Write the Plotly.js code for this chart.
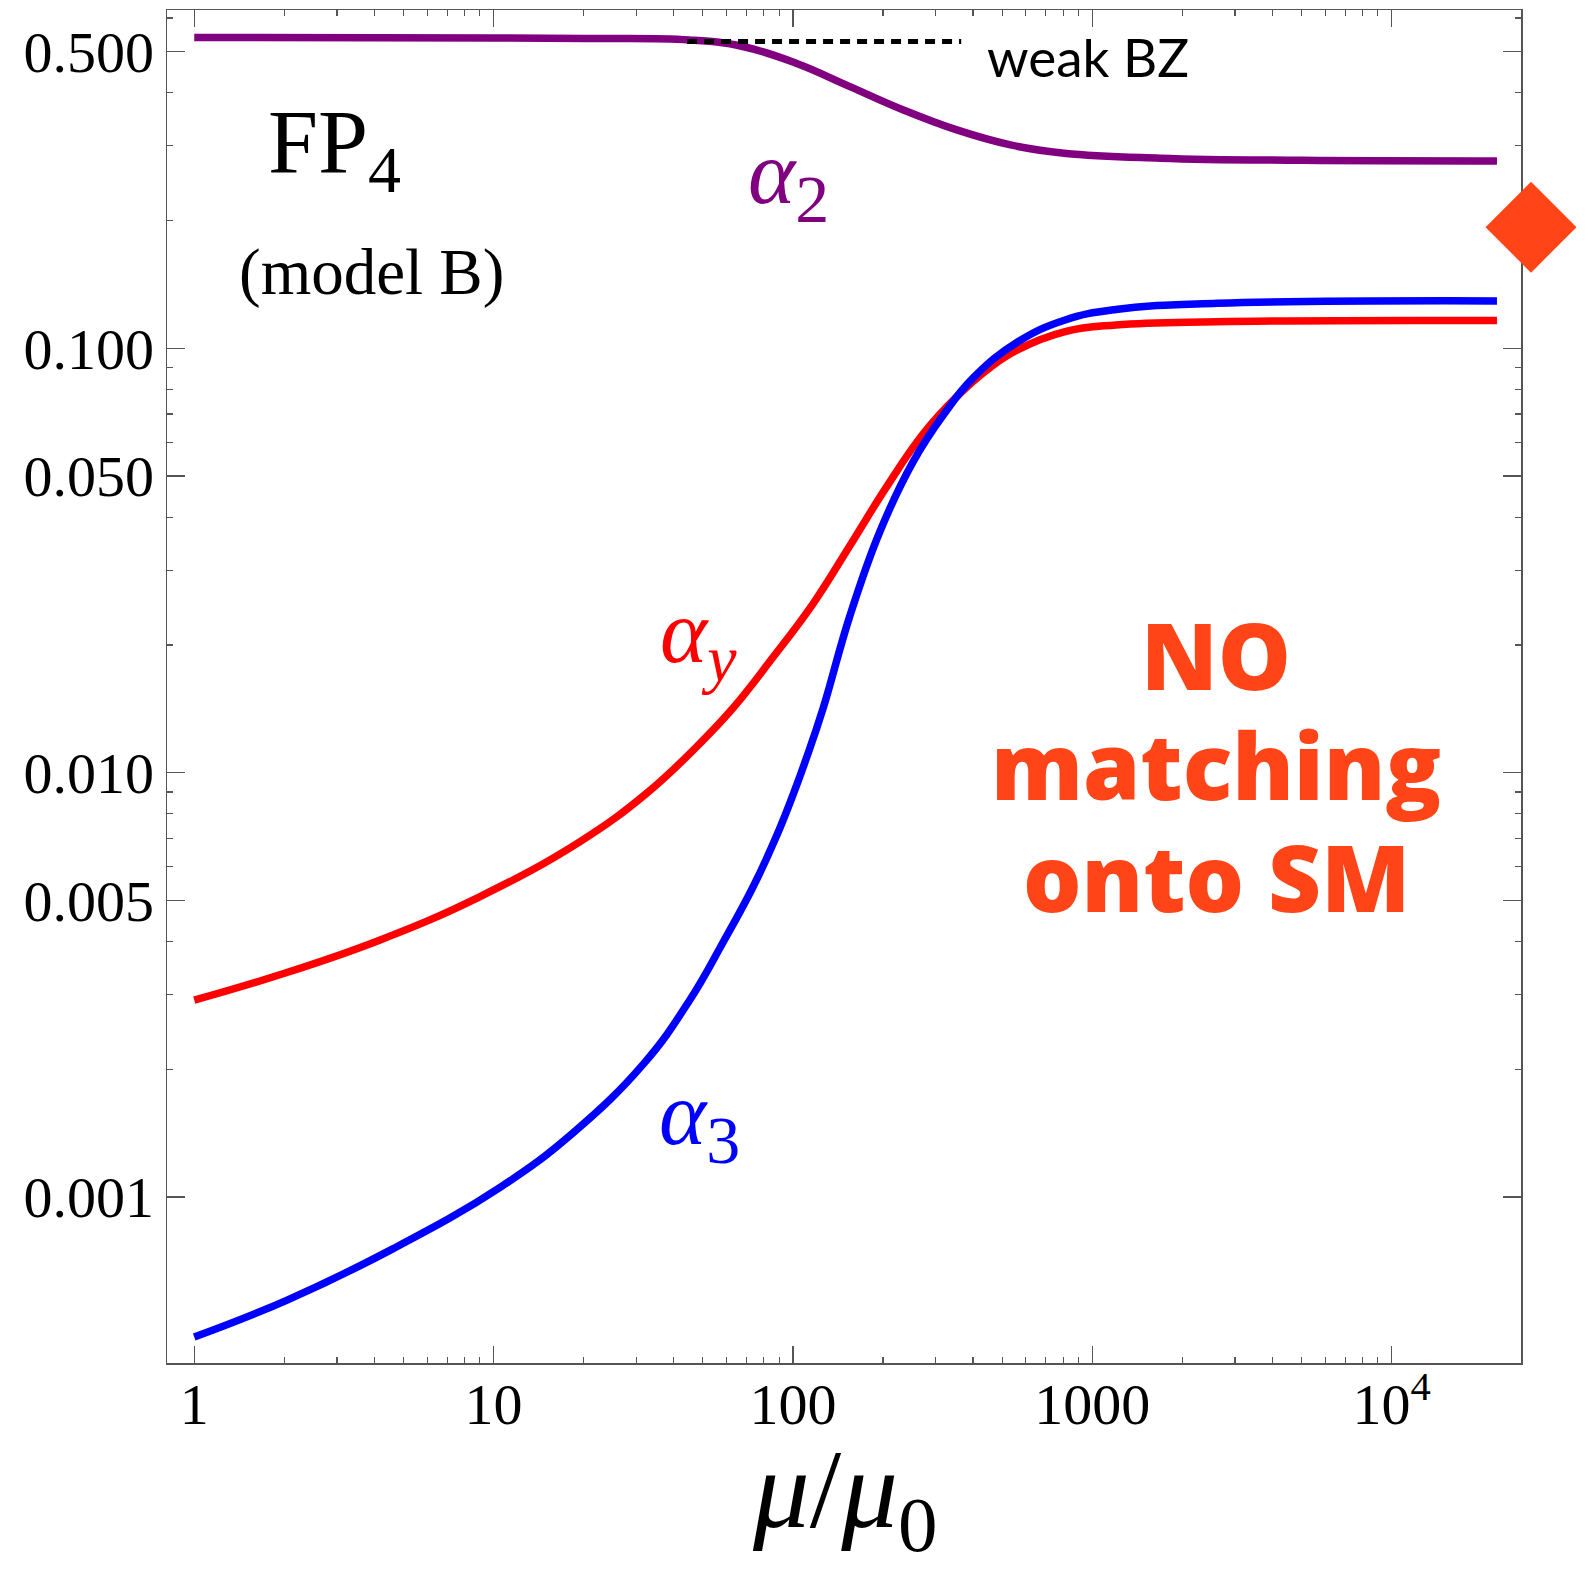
<!DOCTYPE html>
<html>
<head>
<meta charset="utf-8">
<script src="https://cdn.plot.ly/plotly-3.0.1.min.js"></script>
<style>
  html, body { margin: 0; padding: 0; background: #ffffff; }
  #plot { width: 1591px; height: 1569px; }
</style>
</head>
<body>
<div id="plot"></div>
<script>
// Running gauge and Yukawa couplings of model B, flowing away from FP4

// alpha_2 (SU(2) gauge coupling)
const mu_alpha2 = [1, 10, 20, 45, 68, 102.5, 155, 234, 353, 533, 806, 1683, 5000, 22500];
const alpha2    = [0.5397, 0.5385, 0.537, 0.5326, 0.514, 0.4694, 0.4136, 0.3643, 0.3269, 0.3014, 0.2882, 0.2805, 0.2772, 0.2763];

// alpha_y (Yukawa coupling)
const mu_alphaY = [1, 1.93, 4.16, 8.98, 19.4, 32.4, 48.2, 63, 85.8, 116.7, 154.8, 205, 272, 352, 455, 565, 812, 1200, 2600, 22500];
const alphaY    = [0.00291, 0.00334, 0.00403, 0.0051, 0.00687, 0.00893, 0.0116, 0.01418, 0.0187, 0.0250, 0.0342, 0.0470, 0.0628, 0.0768, 0.0900, 0.0993, 0.1095, 0.1135, 0.1155, 0.1162];

// alpha_3 (SU(3) gauge coupling)
const mu_alpha3 = [1, 2.035, 4.64, 10.58, 18.35, 31.8, 45.2, 58.4, 73.5, 88.1, 100, 110.9, 126, 154.8, 195, 252, 317.5, 400, 565, 812, 1199, 2620, 22500];
const alpha3    = [0.000468, 0.000571, 0.000757, 0.001057, 0.001413, 0.002065, 0.00291, 0.00398, 0.00537, 0.00708, 0.00885, 0.01081, 0.01413, 0.02333, 0.0369, 0.0540, 0.0695, 0.0851, 0.1036, 0.1166, 0.1234, 0.1276, 0.1293];

// weak Banks-Zaks value of alpha_2
const mu_weakBZ = [44.3, 365];
const weakBZ    = [0.528, 0.528];

// Standard Model value of alpha_2 at the matching scale
const mu_SM    = [29240];
const alpha2SM = [0.1929];

// axis ticks
const xTickVals  = [1, 10, 100, 1000, 10000];
const xTickText  = ['1', '10', '100', '1000', '10<sup>4</sup>'];
const xMinorVals = [2, 3, 4, 5, 6, 7, 8, 9, 20, 30, 40, 50, 60, 70, 80, 90,
                    200, 300, 400, 500, 600, 700, 800, 900,
                    2000, 3000, 4000, 5000, 6000, 7000, 8000, 9000];
const yTickVals  = [0.5, 0.1, 0.05, 0.01, 0.005, 0.001];
const yTickText  = ['0.500', '0.100', '0.050', '0.010', '0.005', '0.001'];
const yMinorVals = [0.6, 0.4, 0.3, 0.2, 0.09, 0.08, 0.07, 0.06, 0.04, 0.03, 0.02,
                    0.009, 0.008, 0.007, 0.006, 0.004, 0.003, 0.002];

const SERIF = 'Liberation Serif, Times New Roman, serif';
const SANS = 'Lato, Open Sans, sans-serif';
const BOLD_SANS = 'Open Sans, Lato, sans-serif';
const ORANGE = '#ff4517';
const AXIS = '#555555';

// log ranges of the framed plot; the SM marker sits just right of the frame
const X_RANGE = [-0.091, 4.4325];
const Y_RANGE = [-3.391, -0.203];
const X_DOMAIN_END = 0.958245;

const curve = (x, y, color) => ({
  type: 'scatter', mode: 'lines', x: x, y: y,
  line: { color: color, width: 7.5, shape: 'spline', smoothing: 1.2 },
  hoverinfo: 'skip', showlegend: false
});

const traces = [
  curve(mu_alpha2, alpha2, '#800080'),
  curve(mu_alphaY, alphaY, '#ff0000'),
  curve(mu_alpha3, alpha3, '#0000ff'),
  {
    type: 'scatter', mode: 'lines', x: mu_weakBZ, y: weakBZ,
    line: { color: '#000000', width: 5, dash: '10px,7px' },
    hoverinfo: 'skip', showlegend: false
  },
  {
    type: 'scatter', mode: 'markers', x: mu_SM, y: alpha2SM,
    xaxis: 'x2', yaxis: 'y2',
    marker: { symbol: 'diamond', size: 70, color: ORANGE, line: { width: 0 } },
    hoverinfo: 'skip', showlegend: false
  }
];

const axisCommon = {
  type: 'log',
  showgrid: false, zeroline: false,
  showline: true, linecolor: AXIS, linewidth: 1.5, mirror: 'ticks',
  ticks: 'inside', tickcolor: AXIS, tickwidth: 1.3,
  tickmode: 'array',
  tickfont: { family: SERIF, size: 58, color: '#000000' }
};

const textAnn = (text, x, y, font, xanchor) => ({
  text: text, xref: 'x domain', yref: 'y domain', x: x, y: y,
  xanchor: xanchor || 'left', yanchor: 'middle', showarrow: false, font: font
});

const layout = {
  width: 1591, height: 1569,
  margin: { l: 167, r: 11, t: 10, b: 206 },
  paper_bgcolor: '#ffffff', plot_bgcolor: 'rgba(255,255,255,0)',
  showlegend: false,
  xaxis: Object.assign({}, axisCommon, {
    domain: [0, X_DOMAIN_END], anchor: 'y',
    range: X_RANGE,
    tickvals: xTickVals, ticktext: xTickText, ticklen: 17,
    ticklabelstandoff: -10,
    minor: { tickmode: 'array', tickvals: xMinorVals, ticks: 'inside', ticklen: 6, tickwidth: 1.2, tickcolor: AXIS, showgrid: false }
  }),
  yaxis: Object.assign({}, axisCommon, {
    domain: [0, 1], anchor: 'x',
    range: Y_RANGE,
    tickvals: yTickVals, ticktext: yTickText, ticklen: 18,
    ticklabelstandoff: 0,
    minor: { tickmode: 'array', tickvals: yMinorVals, ticks: 'inside', ticklen: 6, tickwidth: 1.2, tickcolor: AXIS, showgrid: false }
  }),
  // hidden twin axes with the same log scales, spanning the full width
  // so the SM marker can be drawn beyond the right edge of the frame
  xaxis2: {
    type: 'log', domain: [0, 1], anchor: 'y2', visible: false,
    range: [X_RANGE[0], X_RANGE[0] + (X_RANGE[1] - X_RANGE[0]) / X_DOMAIN_END]
  },
  yaxis2: {
    type: 'log', domain: [0, 1], anchor: 'x2', visible: false,
    range: Y_RANGE
  },
  annotations: [
    // x-axis title
    textAnn('<i>μ</i>/<i>μ</i><sub>0</sub>', 0.5, -0.099, { family: SERIF, size: 113, color: '#000000' }, 'center'),
    textAnn('FP<sub><span style="font-size:66px">4</span></sub>', 0.0731, 0.897, { family: SERIF, size: 90, color: '#000000' }),
    textAnn('(model B)', 0.0514, 0.8064, { family: SERIF, size: 65, color: '#000000' }),
    textAnn('<i>α</i><sub><span style="font-size:68px">2</span></sub>', 0.4276, 0.8747, { family: SERIF, size: 90, color: '#800080' }),
    textAnn('<i>α</i><sub><i><span style="font-size:66px">y</span></i></sub>', 0.3626, 0.5355, { family: SERIF, size: 90, color: '#ff0000' }),
    textAnn('<i>α</i><sub><span style="font-size:68px">3</span></sub>', 0.3619, 0.1785, { family: SERIF, size: 90, color: '#0000ff' }),
    textAnn('weak BZ', 0.6041, 0.9655, { family: SANS, size: 53, color: '#000000' }),
    textAnn('NO', 0.7748, 0.5233, { family: BOLD_SANS, size: 92, color: ORANGE, weight: 800 }, 'center'),
    textAnn('matching', 0.7748, 0.4424, { family: BOLD_SANS, size: 92, color: ORANGE, weight: 800 }, 'center'),
    textAnn('onto SM', 0.7748, 0.3599, { family: BOLD_SANS, size: 92, color: ORANGE, weight: 800 }, 'center')
  ]
};

Plotly.newPlot('plot', traces, layout, { staticPlot: true, displayModeBar: false });
</script>
</body>
</html>
